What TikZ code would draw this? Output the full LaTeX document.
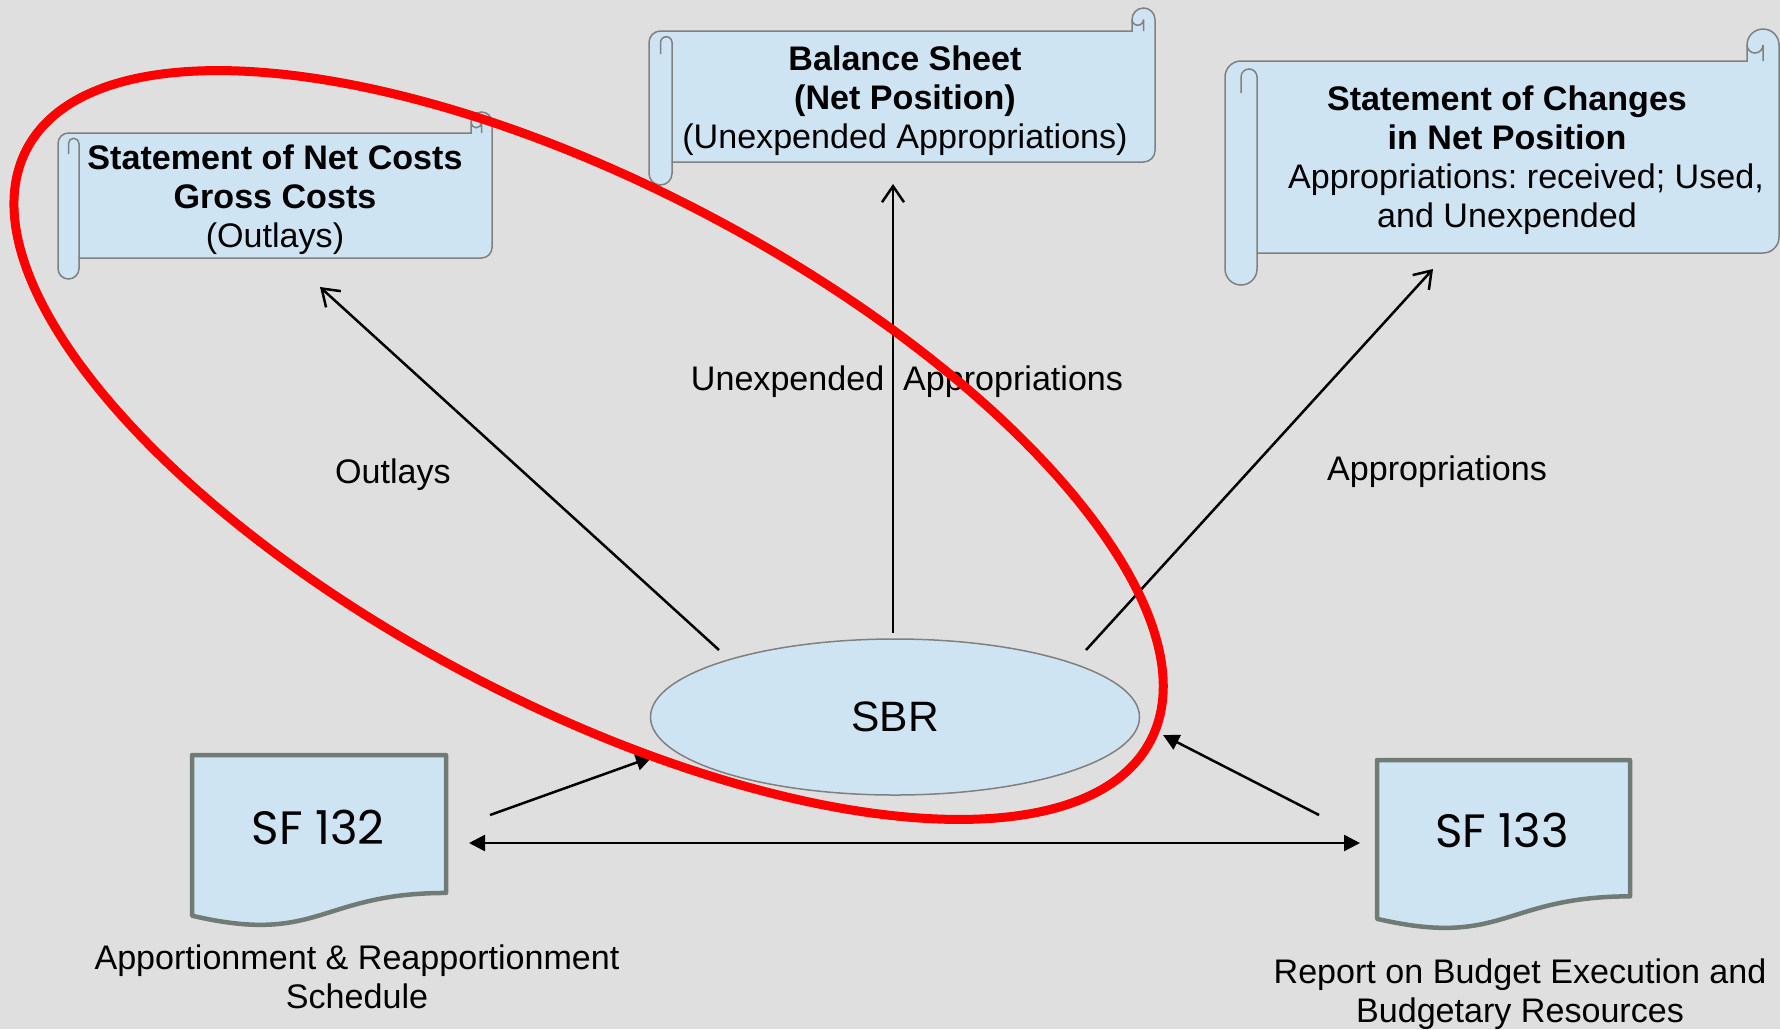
\documentclass[tikz,border=0pt]{standalone}
\usepackage{fontspec}
\setmainfont{Liberation Sans}
\newfontfamily\sffont{Poppins}
\usetikzlibrary{arrows.meta,shapes.geometric}
\definecolor{bgc}{RGB}{223,223,223}
\definecolor{boxc}{RGB}{207,228,243}
\definecolor{docc}{RGB}{111,123,116}
\frenchspacing
% l t r b c
\newcommand{\scrollbox}[5]{%
  \filldraw[scrollline] (#1,{#4-#5/2}) -- (#1,{#2+1.5*#5}) arc[start angle=180,end angle=270,radius={#5/2}]
    -- ({#3-#5},{#2+#5}) -- ({#3-#5},{#2+#5/2}) arc[start angle=180,end angle=360,radius={#5/2}]
    -- (#3,{#4-1.5*#5}) arc[start angle=0,end angle=90,radius={#5/2}]
    -- ({#1+#5},{#4-#5}) -- ({#1+#5},{#4-#5/2}) arc[start angle=0,end angle=180,radius={#5/2}] -- cycle;
  \draw[curl] ({#1+#5/2},{#2+2*#5}) -- ({#1+#5/2},{#2+1.5*#5}) arc[start angle=180,end angle=360,radius={#5/4}] -- ({#1+#5},{#4-#5});
  \draw[curl] ({#3-#5/2},{#2+#5}) -- ({#3-#5/2},{#2+#5/2}) arc[start angle=0,end angle=180,radius={#5/4}];
}
% l t r h
\newcommand{\docbox}[4]{%
  \filldraw[docline] (#1,#2) -- (#3,#2) -- (#3,{#2+0.802*#4})
    .. controls ({(#1+#3)/2},{#2+0.802*#4}) and ({(#1+#3)/2},{#2+1.1075*#4}) .. (#1,{#2+0.934*#4}) -- cycle;
}
\begin{document}
\begin{tikzpicture}[x=0.1mm,y=-0.1mm,
    scrollline/.style={draw=gray,fill=boxc,line width=0.15mm},
    curl/.style={draw=gray,line width=0.15mm},
    docline/.style={draw=docc,fill=boxc,line width=0.45mm,line join=round},
    txt/.style={font=\fontsize{9.7}{11.1}\selectfont,align=center,inner sep=0pt},
    sftxt/.style={font=\sffont\fontsize{13.3}{15}\selectfont,inner sep=0pt},
    openarr/.style={-{Straight Barb[length=1.6mm,width=2.2mm]},line width=0.25mm},
    fillarr/.style={-{Triangle[length=1.6mm,width=1.6mm]},line width=0.25mm}]
    \useasboundingbox (0,0) rectangle (1780,1029);
    \fill[bgc] (0,0) rectangle (1780,1029);
    \scrollbox{58}{112}{492}{279}{21}
    \scrollbox{649}{8}{1155}{185}{23}
    \scrollbox{1225}{29}{1779}{285}{32}
    \node[txt] (ncs) at (275,200) {\textbf{Statement of Net Costs}\\\textbf{Gross Costs}\\(Outlays)};
    \node[txt] (bs) at (905,101) {\textbf{Balance Sheet}\\\textbf{(Net Position)}\\(Unexpended Appropriations)};
    \node[txt] (scnp) at (1507,160) {\textbf{Statement of Changes}\\\textbf{in Net Position}\\\hspace*{3.8mm}Appropriations: received; Used,\\and Unexpended};
    \node[ellipse,draw=gray,fill=boxc,line width=0.15mm,minimum width=48.9mm,minimum height=15.6mm,inner sep=0pt,
        font=\fontsize{12.1}{14}\selectfont] (sbr) at (895,717) {SBR};
    \docbox{192}{755}{446}{172}
    \docbox{1377}{760}{1630}{170}
    \node[sftxt] (sf132) at (318,827) {SF 132};
    \node[sftxt] (sf133) at (1502,830) {SF 133};
    \node[txt] (sched) at (357,977) {Apportionment \& Reapportionment\\Schedule};
    \node[txt] (rpt) at (1520,994) {Report on Budget Execution and\\Budgetary Resources};
    \node[txt] (outl) at (393,475) {Outlays};
    \node[txt] (unexp) at (907,382) {Unexpended\ \ Appropriations};
    \node[txt] (appr) at (1437,472) {Appropriations};
    \coordinate (sbrl) at (719,650);
    \coordinate (sbrt) at (893,633);
    \coordinate (sbrr) at (1086,650);
    \coordinate (ncsin) at (320,287);
    \coordinate (bsin) at (893,184);
    \coordinate (scnin) at (1433,269);
    \coordinate (out132) at (490,815);
    \coordinate (in132) at (652,757);
    \coordinate (out133) at (1319,815);
    \coordinate (in133) at (1163,735);
    \coordinate (end132) at (469,843);
    \coordinate (end133) at (1360,843);
    \draw[openarr] (sbrl) -- (ncsin);
    \draw[openarr] (sbrt) -- (bsin);
    \draw[openarr] (sbrr) -- (scnin);
    \draw[fillarr] (out132) -- (in132);
    \draw[fillarr] (out133) -- (in133);
    \draw[line width=0.25mm,{Triangle[length=1.6mm,width=1.6mm]}-{Triangle[length=1.6mm,width=1.6mm]}] (end132) -- (end133);
    \draw[red,line width=0.9mm,rotate around={-27.8:(588.6,445)}] (588.6,445) ellipse [x radius=635,y radius=259];
\end{tikzpicture}
\end{document}
